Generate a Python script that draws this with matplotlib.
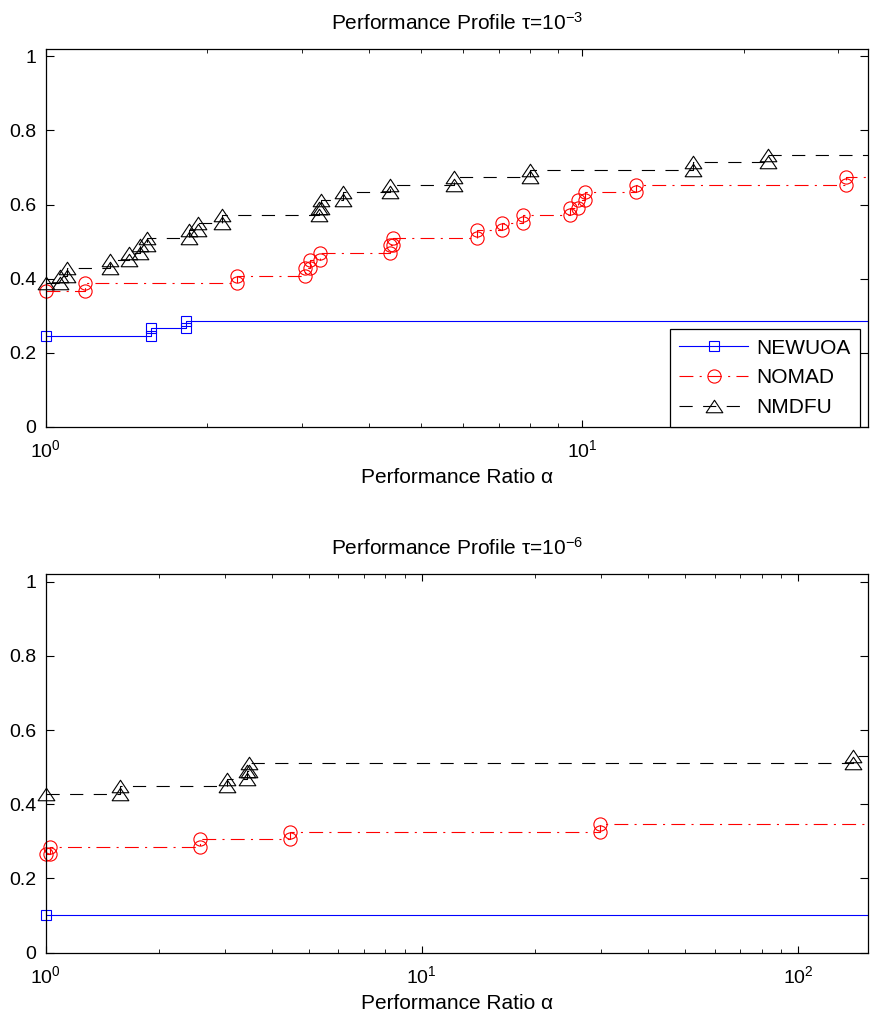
import numpy as np
import matplotlib
matplotlib.use('Agg')
import matplotlib.pyplot as plt
from matplotlib.lines import Line2D
from matplotlib.path import Path
from matplotlib.ticker import FixedLocator, FixedFormatter

plt.rcParams['font.family'] = ['Liberation Sans', 'DejaVu Sans']
plt.rcParams['mathtext.fontset'] = 'custom'
plt.rcParams['mathtext.rm'] = 'Liberation Sans'
plt.rcParams['mathtext.it'] = 'Liberation Sans'
plt.rcParams['lines.scale_dashes'] = False

# numero de problemas
n_prob = 49

# tau = 1e-3 : ratio donde sube el perfil y numero de problemas resueltos
t3_newuoa_r = [1.0, 1.569, 1.826]
t3_newuoa_n = [12, 13, 14]
t3_nomad_r = [1.0, 1.184, 2.27, 3.043, 3.109, 3.246, 4.39, 4.44, 6.36, 7.08,
              7.77, 9.49, 9.83, 10.12, 12.6, 31.05]
t3_nomad_n = [18, 19, 20, 21, 22, 23, 24, 25, 26, 27, 28, 29, 30, 31, 32, 33]
t3_nmdfu_r = [1.0, 1.063, 1.097, 1.318, 1.428, 1.499, 1.542, 1.847, 1.92, 2.132,
              3.23, 3.26, 3.578, 4.384, 5.768, 7.99, 16.07, 22.23]
t3_nmdfu_n = [19, 20, 21, 22, 23, 24, 25, 26, 27, 28, 29, 30, 31, 32, 33, 34, 35, 36]

# tau = 1e-6
t6_newuoa_r = [1.0]
t6_newuoa_n = [5]
t6_nomad_r = [1.0, 1.028, 2.573, 4.46, 29.7]
t6_nomad_n = [13, 14, 15, 16, 17]
t6_nmdfu_r = [1.0, 1.571, 3.03, 3.42, 3.48, 139.8]
t6_nmdfu_n = [21, 22, 23, 24, 25, 26]

solvers = ['NEWUOA', 'NOMAD', 'NMDFU']
colores = ['#0000ff', '#ff0000', '#000000']
estilos = ['-', (0, (10, 4.5, 1.5, 4.5)), (0, (9.5, 7.5))]

# triangulo mas ancho que alto (como matlab)
tri = Path([(-1, -0.75), (1, -0.75), (0, 0.75), (-1, -0.75)],
           [Path.MOVETO, Path.LINETO, Path.LINETO, Path.CLOSEPOLY])
marcas = ['s', 'o', tri]
tams = [7.5, 9.5, 12]


def perfil(ax, r, n, xmax, k):
    xs = [r[0]]
    ys = [n[0] / n_prob]
    for i in range(1, len(r)):
        xs += [r[i], r[i]]
        ys += [n[i - 1] / n_prob, n[i] / n_prob]
    ax.plot(xs + [xmax], ys + [ys[-1]], color=colores[k], linestyle=estilos[k],
            linewidth=0.8)
    ax.plot(xs, ys, linestyle='none', marker=marcas[k], markersize=tams[k],
            markerfacecolor='none', markeredgecolor=colores[k], markeredgewidth=0.8,
            clip_on=False)


def ejes(ax, xmax, titulo):
    ax.set_xscale('log')
    ax.set_xlim(1, xmax)
    ax.set_ylim(0, 1.02)
    ax.yaxis.set_major_locator(FixedLocator([0, 0.2, 0.4, 0.6, 0.8, 1]))
    ax.yaxis.set_major_formatter(FixedFormatter(['0', '0.2', '0.4', '0.6', '0.8', '1']))
    ax.tick_params(which='both', direction='in', top=True, right=True, labelsize=14)
    ax.tick_params(axis='x', which='major', length=5, width=0.8, pad=9)
    ax.tick_params(axis='x', which='minor', length=3, width=0.6)
    ax.tick_params(axis='y', which='major', length=6, width=0.8, pad=7)
    for s in ax.spines.values():
        s.set_linewidth(0.9)
    ax.set_title(titulo, fontsize=15, pad=14)
    ax.set_xlabel('Performance Ratio α', fontsize=15, labelpad=5)


fig = plt.figure(figsize=(8.71, 10.14), dpi=100)
ax1 = fig.add_axes([0.0525, 0.5792, 0.9444, 0.3725])
ax2 = fig.add_axes([0.0525, 0.0605, 0.9444, 0.3731])

xmax1 = 1.1 * max(t3_nomad_r[-1], t3_nmdfu_r[-1])
perfil(ax1, t3_newuoa_r, t3_newuoa_n, xmax1, 0)
perfil(ax1, t3_nomad_r, t3_nomad_n, xmax1, 1)
perfil(ax1, t3_nmdfu_r, t3_nmdfu_n, xmax1, 2)
ejes(ax1, xmax1, r'Performance Profile τ=10$^{-3}$')

xmax2 = 1.1 * max(t6_nomad_r[-1], t6_nmdfu_r[-1])
perfil(ax2, t6_newuoa_r, t6_newuoa_n, xmax2, 0)
perfil(ax2, t6_nomad_r, t6_nomad_n, xmax2, 1)
perfil(ax2, t6_nmdfu_r, t6_nmdfu_n, xmax2, 2)
ejes(ax2, xmax2, r'Performance Profile τ=10$^{-6}$')

# leyenda solo en la grafica de arriba
handles = [Line2D([], [], color=colores[k], linestyle=estilos[k], linewidth=0.8,
                  marker=marcas[k], markersize=tams[k], markerfacecolor='none',
                  markeredgecolor=colores[k], markeredgewidth=0.8) for k in range(3)]
leg = ax1.legend(handles, solvers, loc='lower right', bbox_to_anchor=(0.99, 0.0),
                 borderaxespad=0, fontsize=15, handlelength=3.3, handletextpad=0.4,
                 labelspacing=0.52, borderpad=0.45, fancybox=False, framealpha=1,
                 edgecolor='black', numpoints=1)
leg.get_frame().set_linewidth(0.9)
leg.set_zorder(5)

plt.savefig('out.png', dpi=100)
